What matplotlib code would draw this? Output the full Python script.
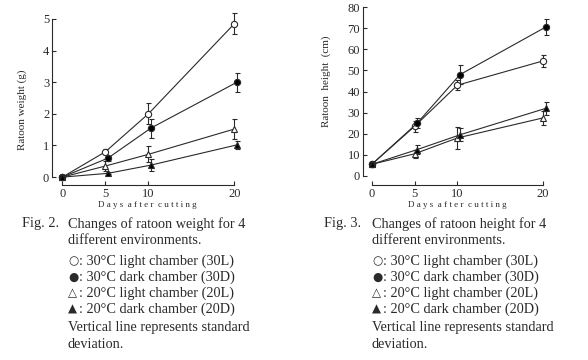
import matplotlib
matplotlib.use("Agg")
import matplotlib.pyplot as plt

plt.rcParams['font.family'] = ['Liberation Serif', 'DejaVu Sans']

days = [0, 5, 10, 20]
series = ["30L", "30D", "20L", "20D"]

# Fig. 2 - ratoon weight (g)
weight = {
    "30L": [0, 0.80, 2.00, 4.85],
    "30D": [0, 0.60, 1.55, 3.00],
    "20L": [0, 0.35, 0.72, 1.52],
    "20D": [0, 0.12, 0.38, 1.02],
}
weight_sd = {
    "30L": [0, 0.08, 0.33, 0.33],
    "30D": [0, 0.08, 0.30, 0.30],
    "20L": [0, 0.15, 0.25, 0.33],
    "20D": [0, 0.03, 0.18, 0.13],
}

# Fig. 3 - ratoon height (cm)
height = {
    "30L": [5.5, 23.5, 43.0, 54.5],
    "30D": [5.5, 25.0, 48.0, 70.5],
    "20L": [5.5, 10.5, 18.0, 27.5],
    "20D": [5.5, 12.5, 19.5, 32.0],
}
height_sd = {
    "30L": [0, 2.5, 2.5, 3.0],
    "30D": [0, 2.5, 4.5, 3.8],
    "20L": [0, 2.0, 5.0, 3.5],
    "20D": [0, 2.0, 3.0, 3.0],
}

legend_lines = [
    ("\u25cb", "30\u00b0C light chamber (30L)"),
    ("\u25cf", "30\u00b0C dark chamber (30D)"),
    ("\u25b3", "20\u00b0C light chamber (20L)"),
    ("\u25b2", "20\u00b0C dark chamber (20D)"),
]

style = {
    "30L": dict(marker="o", mfc="white", ms=4.5),
    "30D": dict(marker="o", mfc="black", ms=4.5),
    "20L": dict(marker="^", mfc="white", ms=4.5),
    "20D": dict(marker="^", mfc="black", ms=4.5),
}
dodge = {"30L": 0.0, "30D": 0.3, "20L": 0.0, "20D": 0.3}

ink = "#2a2a2a"
fig = plt.figure(figsize=(5.88, 3.6), dpi=100)


def panel(rect, vals, sds, ylim, yticks, ylabel):
    ax = fig.add_axes(rect)
    for s in series:
        xs = [d + (dodge[s] if d > 0 else 0) for d in days]
        ax.errorbar(xs, vals[s], yerr=sds[s], color=ink, lw=0.8,
                    elinewidth=0.8, capsize=1.8, capthick=0.8,
                    mec=ink, mew=0.8, zorder=3, **style[s])
    ax.set_ylim(*ylim)
    ax.set_yticks(yticks)
    ax.set_xticks(days)
    for sp in ("top", "right"):
        ax.spines[sp].set_visible(False)
    ax.spines["left"].set_bounds(yticks[0], yticks[-1])
    ax.spines["bottom"].set_bounds(0, 20)
    for sp in ("left", "bottom"):
        ax.spines[sp].set_linewidth(0.8)
        ax.spines[sp].set_color(ink)
    ax.tick_params(direction="in", length=3, width=0.8, labelsize=9,
                   colors=ink, pad=2)
    ax.set_ylabel(ylabel, fontsize=8, color=ink)
    ax.set_xlabel("D a y s  a f t e r  c u t t i n g",
                  fontsize=6.5, color=ink, labelpad=1)
    return ax


ax1 = panel([0.0884, 0.486, 0.325, 0.488], weight, weight_sd,
            (-0.25, 5.3), [0, 1, 2, 3, 4, 5], "Ratoon weight (g)")
ax1.set_xlim(-1.2, 21)
ax1.yaxis.set_label_coords(-0.13, 0.43)

ax2 = panel([0.617, 0.486, 0.321, 0.506], height, height_sd,
            (-4.3, 82), [0, 10, 20, 30, 40, 50, 60, 70, 80], "Ratoon  height  (cm)")
ax2.set_xlim(-1.05, 21)
ax2.yaxis.set_label_coords(-0.17, 0.57)


def caption(x_fig, x_text, figno, title):
    W, H = 588.0, 360.0
    kw = dict(fontsize=10.3, color=ink, va="center", ha="left")
    fig.text(x_fig / W, 1 - 224 / H, figno, **kw)
    fig.text(x_text / W, 1 - 224 / H, title, **kw)
    fig.text(x_text / W, 1 - 241 / H, "different environments.", **kw)
    for i, (sym, txt) in enumerate(legend_lines):
        y = 1 - (261 + 16 * i) / H
        fig.text(x_text / W, y, sym, fontsize=8.5, color=ink, va="center",
                 ha="left", family="DejaVu Sans")
        fig.text((x_text + 11) / W, y, ": " + txt, **kw)
    fig.text(x_text / W, 1 - 328 / H, "Vertical line represents standard", **kw)
    fig.text(x_text / W, 1 - 345 / H, "deviation.", **kw)


caption(22, 68, "Fig. 2.", "Changes of ratoon weight for 4")
caption(324, 372, "Fig. 3.", "Changes of ratoon height for 4")

fig.savefig("out.png", dpi=100)
